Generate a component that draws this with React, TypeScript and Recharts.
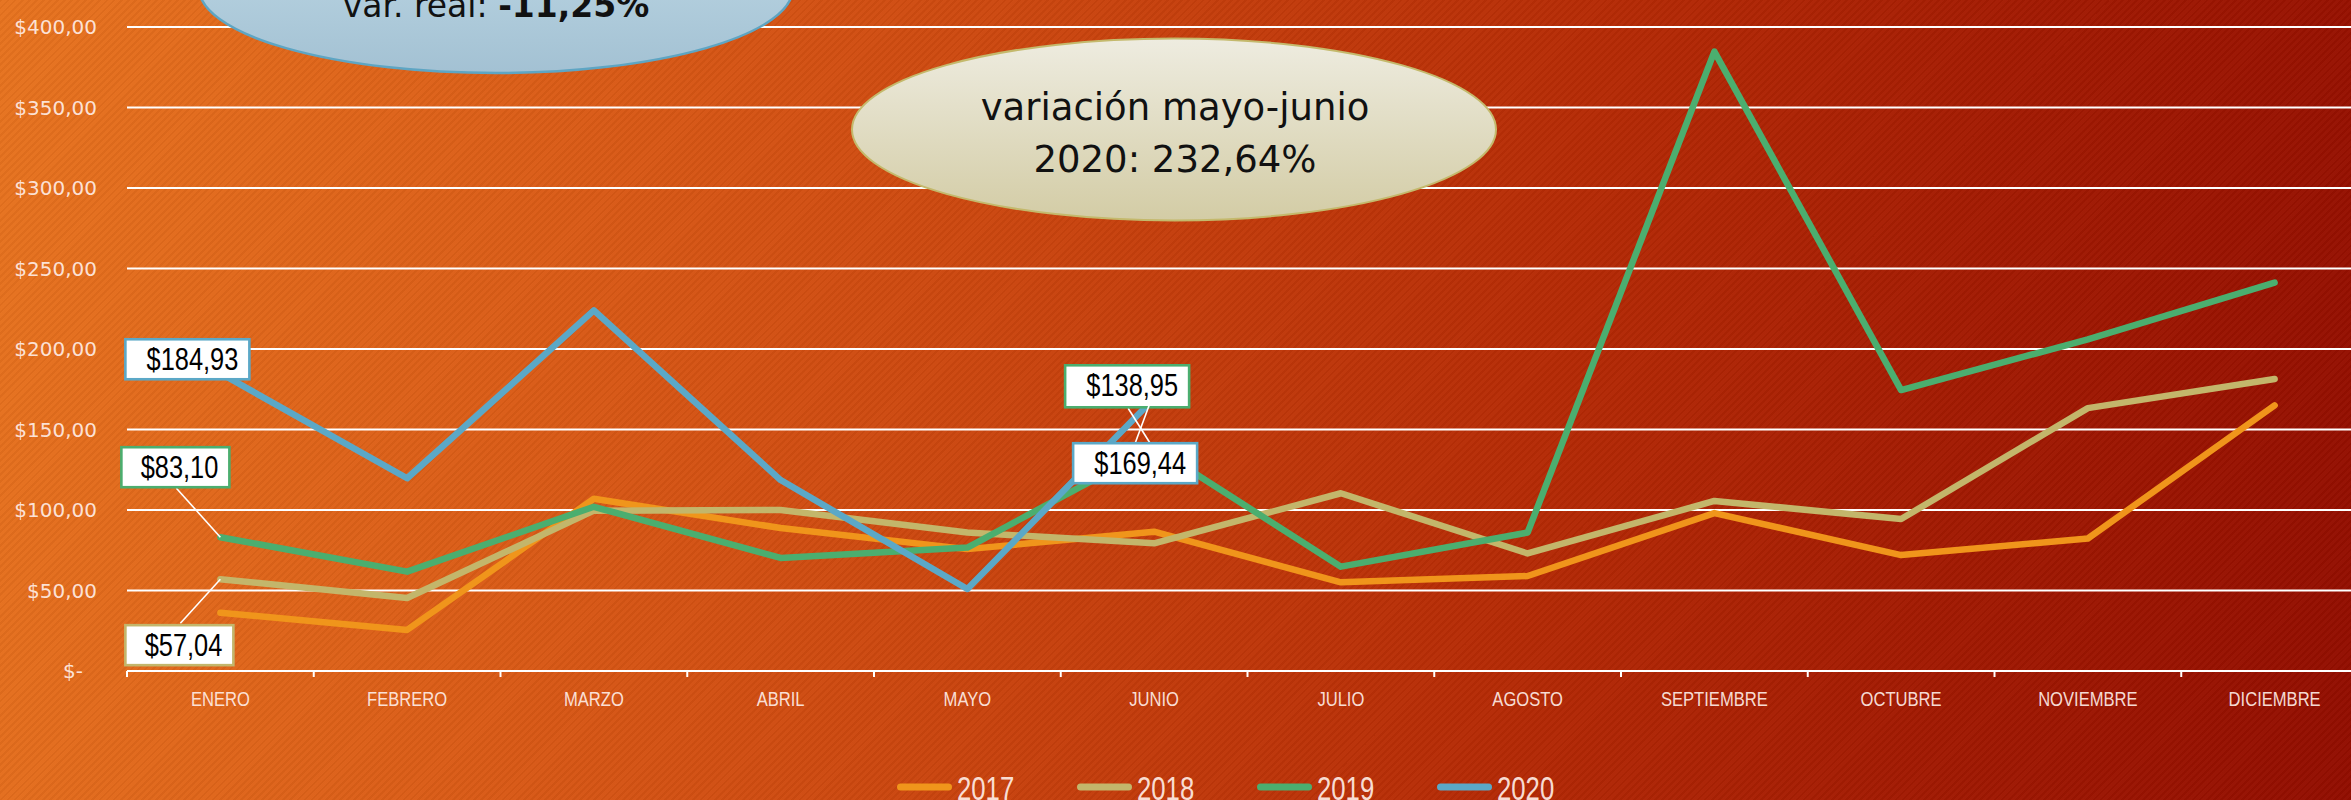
import React from 'react';
import { LineChart, Line, XAxis, YAxis, CartesianGrid, Legend, LabelList } from 'recharts';

const MONTHS = ['ENERO', 'FEBRERO', 'MARZO', 'ABRIL', 'MAYO', 'JUNIO', 'JULIO', 'AGOSTO', 'SEPTIEMBRE', 'OCTUBRE', 'NOVIEMBRE', 'DICIEMBRE'];
const V2017 = [36.2, 25.5, 107.0, 88.8, 75.7, 86.5, 55.1, 59.0, 98.1, 72.0, 82.3, 165.0];
const V2018 = [57.04, 45.3, 99.6, 100.0, 86.0, 79.3, 110.4, 73.0, 105.6, 94.4, 163.3, 181.4];
const V2019 = [83.1, 61.7, 102.0, 70.2, 76.7, 138.95, 64.8, 86.0, 384.7, 174.5, 206.0, 241.2];
const V2020 = [184.93, 119.7, 224.0, 118.6, 50.93, 169.44, null, null, null, null, null, null];
const Y_TICKS = [0, 50, 100, 150, 200, 250, 300, 350, 400];
const SERIES = [
  { key: 'y2017', name: '2017', color: '#F0951B' },
  { key: 'y2018', name: '2018', color: '#C3B66B' },
  { key: 'y2019', name: '2019', color: '#4BAE6F' },
  { key: 'y2020', name: '2020', color: '#5BA8C7' },
];
const NOTE_MAYO_JUNIO = ['variación mayo-junio', '2020: 232,64%'];
const NOTE_REAL = ['var. real: ', '-11,25%'];

const data = MONTHS.map((m, i) => ({
  month: m,
  y2017: V2017[i],
  y2018: V2018[i],
  y2019: V2019[i],
  y2020: V2020[i],
}));

const PLOT_W = 2241;
const HALF_BAND = PLOT_W / MONTHS.length / 2;

// label box styles (offsets relative to the data point)
const LABEL_BOXES: Record<string, Record<number, any>> = {
  y2020: {
    0: { dx: -95, dy: -34, w: 124, h: 40 },
    5: { dx: -81, dy: 45, w: 124, h: 40, lead: [-2, -1, -19, 45] },
  },
  y2019: {
    0: { dx: -99, dy: -90, w: 108, h: 40, lead: [-44, -49, 0, 0] },
    5: { dx: -89, dy: -82, w: 124, h: 42, lead: [-26, -39, -4, -4] },
  },
  y2018: {
    0: { dx: -95, dy: 46, w: 108, h: 40, lead: [-40, 44, 0, 0] },
  },
};

const fmtMoney = (v: number) => (v === 0 ? '$-' : '$' + v.toFixed(2).replace('.', ','));
const TICK_COLOR = 'rgba(255,238,232,0.92)';
const SANS = "'Liberation Sans', Arial, sans-serif";

const makeLabel = (key: string, color: string) => (props: any) => {
  const { x, y, value, index } = props;
  const cfg = LABEL_BOXES[key] && LABEL_BOXES[key][index];
  if (!cfg || value == null) return null;
  const bx = x + cfg.dx;
  const by = y + cfg.dy;
  return (
    <g>
      {cfg.lead ? (
        <line x1={x + cfg.lead[0]} y1={y + cfg.lead[1]} x2={x + cfg.lead[2]} y2={y + cfg.lead[3]} stroke="#FFFFFF" strokeWidth={1.6} />
      ) : null}
      <rect x={bx} y={by} width={cfg.w} height={cfg.h} fill="#FFFFFF" stroke={color} strokeWidth={2.6} />
      <text
        transform={`translate(${bx + cfg.w - 11},${by + 31}) scale(0.82,1)`}
        x={0}
        y={0}
        textAnchor="end"
        fontFamily={SANS}
        fontSize={31}
        fill="#000"
      >
        {fmtMoney(value)}
      </text>
    </g>
  );
};

const YTick = (props: any) => {
  const { x, y, payload } = props;
  const v = payload.value;
  return (
    <text x={v === 0 ? x - 14 : x} y={y} dy="0.35em" textAnchor="end" fontFamily="'DejaVu Sans', sans-serif" fontSize={20} fill={TICK_COLOR}>
      {fmtMoney(v)}
    </text>
  );
};

const XTick = (props: any) => {
  const { x, y, payload, index } = props;
  return (
    <g>
      <line x1={x - HALF_BAND} x2={x - HALF_BAND} y1={y} y2={y + 6} stroke="#FFFFFF" strokeWidth={2} />
      {index === MONTHS.length - 1 ? (
        <line x1={x + HALF_BAND} x2={x + HALF_BAND} y1={y} y2={y + 6} stroke="#FFFFFF" strokeWidth={2} />
      ) : null}
      <text transform={`translate(${x},${y + 35}) scale(0.79,1)`} x={0} y={0} textAnchor="middle" fontFamily={SANS} fontSize={21} fill={TICK_COLOR}>
        {payload.value}
      </text>
    </g>
  );
};

const LegendContent = () => (
  <svg width={740} height={40} style={{ display: 'block', overflow: 'visible' }}>
    {SERIES.map((s, i) => (
      <g key={s.key}>
        <line x1={8.5 + 180 * i} x2={56.5 + 180 * i} y1={19} y2={19} stroke={s.color} strokeWidth={7} strokeLinecap="round" />
        <text transform={`translate(${65 + 180 * i},32) scale(0.78,1)`} x={0} y={0} fontFamily={SANS} fontSize={33} fill={TICK_COLOR}>
          {s.name}
        </text>
      </g>
    ))}
  </svg>
);

export default function App() {
  return (
    <div
      style={{
        position: 'absolute',
        left: 0,
        top: 0,
        width: 2351,
        height: 800,
        overflow: 'hidden',
        background:
          'repeating-linear-gradient(135deg, rgba(0,0,0,0.035) 0px, rgba(0,0,0,0.035) 2px, rgba(255,255,255,0.02) 2px, rgba(255,255,255,0.02) 5px), linear-gradient(100deg, #E7731F 0%, #D95A16 25%, #C8420D 45%, #B52A05 65%, #A21A02 82%, #920D00 100%)',
      }}
    >
      <LineChart width={2372} height={800} data={data} margin={{ top: 27, right: 4, left: 0, bottom: 89 }}>
        <CartesianGrid vertical={false} stroke="#FFFFFF" strokeWidth={2} />
        <XAxis
          dataKey="month"
          height={40}
          interval={0}
          padding={{ left: HALF_BAND, right: HALF_BAND }}
          axisLine={{ stroke: '#FFFFFF', strokeWidth: 2 }}
          tickLine={false}
          tickSize={0}
          tickMargin={0}
          tick={<XTick />}
        />
        <YAxis
          type="number"
          domain={[0, 400]}
          ticks={Y_TICKS}
          width={127}
          interval={0}
          axisLine={false}
          tickLine={false}
          tickSize={0}
          tickMargin={30}
          tick={<YTick />}
        />
        <Legend
          layout="horizontal"
          verticalAlign="middle"
          align="center"
          wrapperStyle={{ position: 'absolute', left: 891.5, top: 768, width: 740, height: 40 }}
          content={<LegendContent />}
        />
        {SERIES.map((s) => (
          <Line
            key={s.key}
            type="linear"
            dataKey={s.key}
            name={s.name}
            stroke={s.color}
            strokeWidth={6.5}
            strokeLinecap="round"
            strokeLinejoin="round"
            dot={false}
            activeDot={false}
            connectNulls={false}
            isAnimationActive={false}
          />
        ))}
        {SERIES.filter((s) => LABEL_BOXES[s.key]).map((s) => (
          <Line
            key={s.key + '-labels'}
            type="linear"
            dataKey={s.key}
            stroke="none"
            dot={false}
            activeDot={false}
            legendType="none"
            isAnimationActive={false}
          >
            <LabelList dataKey={s.key} content={makeLabel(s.key, s.color)} />
          </Line>
        ))}
      </LineChart>
      <svg width={2351} height={800} style={{ position: 'absolute', left: 0, top: 0, pointerEvents: 'none' }}>
        <defs>
          <linearGradient id="gBlue" x1="0" y1="0" x2="0" y2="1">
            <stop offset="0%" stopColor="#C2DCE8" />
            <stop offset="100%" stopColor="#A3C1D3" />
          </linearGradient>
          <linearGradient id="gCream" x1="0" y1="0" x2="0" y2="1">
            <stop offset="0%" stopColor="#EEECE0" />
            <stop offset="100%" stopColor="#D3CCA5" />
          </linearGradient>
        </defs>
        <ellipse cx={496} cy={-12} rx={297} ry={85} fill="url(#gBlue)" stroke="#5EA5C3" strokeWidth={2.5} />
        <text x={496} y={17} textAnchor="middle" fontFamily="'DejaVu Sans', sans-serif" fontSize={33} fill="#111">
          {NOTE_REAL[0]}
          <tspan fontWeight="bold">{NOTE_REAL[1]}</tspan>
        </text>
        <ellipse cx={1174} cy={129.5} rx={322} ry={91} fill="url(#gCream)" stroke="#C4B96C" strokeWidth={2} />
        <text x={1175} y={120} textAnchor="middle" fontFamily="'DejaVu Sans', sans-serif" fontSize={37} fill="#111">
          {NOTE_MAYO_JUNIO[0]}
        </text>
        <text x={1175} y={172} textAnchor="middle" fontFamily="'DejaVu Sans', sans-serif" fontSize={37} fill="#111">
          {NOTE_MAYO_JUNIO[1]}
        </text>
      </svg>
    </div>
  );
}
